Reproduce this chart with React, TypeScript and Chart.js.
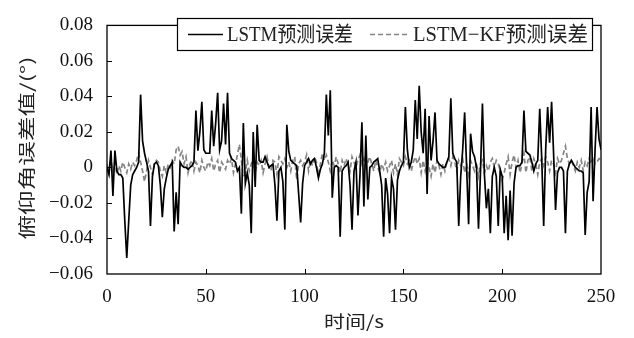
import React, { useEffect, useRef } from "react";
import { Chart, registerables } from "chart.js";

Chart.register(...registerables);

// LSTM prediction error, one value per second (t = 0 .. 250)
const lstmError: number[] = [
  0.000, -0.004, 0.0095, -0.016, 0.0095, -0.002, -0.004, -0.004, -0.006, -0.030,
  -0.051, -0.030, -0.010, -0.004, -0.002, 0.000, 0.003, 0.041, 0.015, 0.008,
  0.003, -0.002, -0.033, -0.005, 0.002, 0.003, 0.001, -0.010, -0.028, -0.012,
  -0.006, -0.001, 0.001, 0.003, -0.036, -0.014, -0.032, 0.003, 0.001, 0.000,
  0.000, -0.001, 0.000, 0.001, 0.003, 0.032, 0.0095, 0.020, 0.037, 0.010,
  0.008, 0.008, 0.008, 0.032, 0.012, 0.025, 0.042, 0.010, 0.015, 0.036,
  0.013, 0.042, 0.008, 0.005, 0.004, 0.003, -0.002, 0.000, -0.026, 0.025,
  -0.009, -0.003, -0.010, -0.037, 0.020, -0.011, 0.024, 0.004, 0.003, 0.003,
  0.006, 0.003, 0.000, 0.001, 0.002, -0.010, -0.030, -0.002, 0.000, -0.008,
  -0.035, 0.024, 0.009, 0.004, 0.003, 0.002, 0.001, -0.015, -0.031, -0.009,
  0.001, 0.003, 0.005, 0.002, 0.004, 0.005, 0.000, -0.006, -0.001, 0.002,
  0.008, 0.041, 0.018, 0.0435, -0.017, 0.000, 0.001, 0.000, -0.039, -0.002,
  0.000, 0.001, 0.003, -0.010, -0.035, -0.002, 0.003, -0.027, -0.005, 0.0255,
  -0.022, 0.018, -0.018, 0.000, 0.001, 0.003, 0.004, 0.005, -0.002, -0.010,
  -0.039, -0.006, -0.015, -0.037, -0.006, -0.012, -0.035, -0.007, -0.002, 0.001,
  0.003, 0.034, 0.010, 0.000, 0.003, 0.010, 0.038, 0.016, 0.046, 0.020,
  0.008, 0.033, -0.015, 0.029, 0.004, 0.015, 0.031, 0.004, 0.002, 0.001,
  0.000, 0.000, 0.003, 0.006, 0.039, 0.008, 0.005, 0.003, -0.033, -0.005,
  0.010, 0.031, 0.000, -0.032, 0.019, 0.009, 0.006, 0.000, -0.0345, -0.003,
  0.036, -0.004, -0.023, -0.012, -0.037, -0.005, 0.000, -0.005, -0.033, -0.001,
  -0.005, -0.037, -0.016, -0.041, -0.013, -0.0385, -0.009, 0.000, 0.001, 0.001,
  0.003, 0.032, 0.009, 0.008, 0.007, 0.003, -0.002, 0.002, 0.004, 0.033,
  0.005, -0.033, 0.010, 0.034, 0.014, 0.037, 0.008, -0.024, -0.003, 0.000,
  0.000, -0.002, -0.037, -0.002, 0.002, 0.004, 0.002, 0.000, -0.001, -0.002,
  -0.002, -0.003, -0.038, -0.014, -0.008, 0.034, -0.019, 0.010, 0.034, 0.016,
  0.010,
];

// LSTM-KF prediction error, one value per second (t = 0 .. 250)
const lstmKfError: number[] = [
  0.002, -0.003, 0.004, -0.002, 0.003, -0.004, 0.001, -0.002, 0.003, 0.000,
  -0.003, 0.002, -0.001, 0.003, 0.001, 0.004, 0.008, 0.003, -0.002, -0.008,
  -0.002, 0.004, 0.000, -0.004, 0.002, 0.004, 0.003, -0.002, -0.005, 0.001,
  -0.003, 0.002, 0.000, 0.004, 0.002, 0.010, 0.012, 0.007, 0.009, 0.002,
  0.006, -0.003, 0.002, 0.004, -0.002, 0.003, 0.001, -0.003, 0.004, 0.000,
  -0.002, 0.003, 0.001, 0.005, -0.002, 0.002, 0.004, -0.003, 0.003, 0.001,
  -0.001, 0.004, 0.002, 0.005, -0.003, 0.002, 0.007, 0.013, 0.004, -0.005,
  -0.003, 0.004, -0.002, 0.002, 0.005, -0.003, 0.003, 0.001, 0.004, -0.003,
  0.002, 0.006, 0.000, -0.002, 0.004, 0.003, -0.004, 0.006, 0.004, 0.002,
  0.005, 0.000, 0.003, -0.002, 0.004, 0.006, -0.007, 0.002, 0.004, 0.001,
  0.003, 0.007, -0.002, 0.004, 0.001, 0.006, 0.003, -0.004, 0.002, 0.008,
  0.004, 0.007, 0.003, -0.002, 0.004, 0.001, 0.006, 0.002, -0.003, 0.004,
  0.001, 0.005, 0.002, -0.002, 0.006, 0.003, 0.000, 0.004, 0.007, 0.002,
  0.005, 0.000, 0.003, 0.006, 0.002, -0.002, 0.004, 0.000, -0.003, 0.002,
  -0.001, 0.003, -0.002, 0.001, 0.004, -0.003, 0.002, -0.004, 0.005, 0.003,
  0.001, 0.006, 0.002, 0.004, -0.002, 0.003, 0.006, 0.002, 0.005, -0.003,
  0.004, -0.002, 0.003, 0.000, -0.005, 0.002, -0.003, 0.004, 0.001, -0.004,
  0.002, -0.002, 0.003, 0.005, 0.001, 0.006, 0.003, -0.002, 0.004, 0.001,
  0.005, -0.003, 0.002, -0.004, 0.004, 0.001, -0.002, 0.003, -0.005, 0.002,
  0.004, -0.003, 0.001, -0.002, 0.003, 0.005, 0.000, 0.004, 0.002, -0.002,
  -0.007, -0.003, 0.002, 0.006, -0.004, 0.003, 0.007, 0.000, 0.004, -0.003,
  0.002, 0.008, -0.003, 0.004, 0.006, -0.002, 0.005, 0.002, -0.004, 0.003,
  0.005, 0.001, 0.006, 0.003, -0.002, 0.004, 0.002, -0.003, 0.005, 0.002,
  0.004, 0.008, 0.012, 0.005, 0.002, 0.004, 0.001, -0.002, 0.003, 0.000,
  0.004, -0.002, 0.003, 0.001, 0.005, 0.002, 0.006, 0.002, 0.003, 0.005,
  0.004,
];

const seriesLabels = ["LSTM预测误差", "LSTM−KF预测误差"];
const xTitle = "时间/s";
const yTitle = "俯仰角误差值/(°)";

const X_MIN = 0, X_MAX = 250, X_STEP = 50;
const Y_MIN = -0.06, Y_MAX = 0.08, Y_STEP = 0.02;

const LATIN = '"Liberation Serif", "Noto Sans CJK SC", serif';
const CJK = '"Noto Sans CJK SC", "Liberation Serif", sans-serif';

function toPoints(vals: number[]) {
  return vals.map((v, i) => ({ x: i, y: v }));
}

function fmtY(v: number) {
  if (Math.abs(v) < 1e-9) return "0";
  return (v < 0 ? "−" : "") + Math.abs(v).toFixed(2);
}

function drawFitted(ctx: CanvasRenderingContext2D, text: string, x: number, y: number, width: number) {
  const w = ctx.measureText(text).width;
  ctx.save();
  ctx.translate(x, y);
  ctx.scale(width / w, 1);
  ctx.fillText(text, 0, 0);
  ctx.restore();
}

const decorPlugin = {
  id: "decor",
  afterDatasetsDraw(chart: any) {
    const ctx: CanvasRenderingContext2D = chart.ctx;
    const { left, right, top, bottom } = chart.chartArea;
    const xs = chart.scales.x;
    const ys = chart.scales.y;
    ctx.save();
    // frame
    ctx.strokeStyle = "#000";
    ctx.lineWidth = 1.3;
    ctx.strokeRect(left, top, right - left, bottom - top);
    // inward ticks
    ctx.lineWidth = 1;
    ctx.beginPath();
    for (let v = Y_MIN + Y_STEP; v < Y_MAX - 1e-9; v += Y_STEP) {
      const py = Math.round(ys.getPixelForValue(v)) + 0.5;
      ctx.moveTo(left, py);
      ctx.lineTo(left + 5, py);
    }
    for (let v = X_MIN + X_STEP; v < X_MAX - 1e-9; v += X_STEP) {
      const px = Math.round(xs.getPixelForValue(v)) + 0.5;
      ctx.moveTo(px, bottom);
      ctx.lineTo(px, bottom - 5);
    }
    ctx.stroke();

    // legend
    const lx = 177, ly = 18, lw = 415, lh = 32;
    ctx.fillStyle = "#fff";
    ctx.fillRect(lx, ly, lw, lh);
    ctx.strokeStyle = "#000";
    ctx.lineWidth = 1.2;
    ctx.strokeRect(lx + 0.5, ly + 0.5, lw, lh);
    const ds = chart.data.datasets;
    const cy = ly + lh / 2 + 0.5;
    ctx.lineWidth = 1.6;
    ctx.strokeStyle = ds[0].borderColor;
    ctx.setLineDash([]);
    ctx.beginPath();
    ctx.moveTo(188, cy);
    ctx.lineTo(223, cy);
    ctx.stroke();
    ctx.strokeStyle = ds[1].borderColor;
    ctx.setLineDash(ds[1].borderDash);
    ctx.beginPath();
    ctx.moveTo(370, cy);
    ctx.lineTo(407, cy);
    ctx.stroke();
    ctx.setLineDash([]);
    ctx.fillStyle = "#222";
    ctx.font = "21px " + LATIN;
    ctx.textBaseline = "middle";
    ctx.textAlign = "left";
    drawFitted(ctx, ds[0].label, 227, cy + 1, 126);
    drawFitted(ctx, ds[1].label, 413, cy + 1, 175);

    // axis titles
    ctx.font = "17px " + CJK;
    ctx.textAlign = "left";
    ctx.textBaseline = "middle";
    const xtw = 60;
    drawFitted(ctx, xTitle, (left + right) / 2 - xtw / 2, 322, xtw);
    ctx.save();
    ctx.translate(27, 148);
    ctx.rotate(-Math.PI / 2);
    const ytw = 183;
    drawFitted(ctx, yTitle, -ytw / 2, 0, ytw);
    ctx.restore();
    ctx.restore();
  },
};

export default function App() {
  const ref = useRef<HTMLCanvasElement | null>(null);
  useEffect(() => {
    if (!ref.current) return;
    const tickFont = { family: LATIN, size: 19 };
    const chart = new Chart(ref.current, {
      type: "line",
      data: {
        datasets: [
          {
            label: seriesLabels[0],
            data: toPoints(lstmError),
            borderColor: "#000000",
            borderWidth: 1.7,
            pointRadius: 0,
            tension: 0,
          },
          {
            label: seriesLabels[1],
            data: toPoints(lstmKfError),
            borderColor: "#858585",
            borderWidth: 1.7,
            borderDash: [5, 3],
            pointRadius: 0,
            tension: 0,
          },
        ],
      },
      options: {
        animation: false,
        responsive: false,
        layout: { padding: { top: 13, right: 33, left: 0, bottom: 0 } },
        plugins: { legend: { display: false }, tooltip: { enabled: false } },
        scales: {
          x: {
            type: "linear",
            min: X_MIN,
            max: X_MAX,
            grid: { display: false, drawTicks: false },
            border: { display: false },
            ticks: { stepSize: X_STEP, color: "#111", font: tickFont, padding: 12, maxRotation: 0 },
            afterFit: (s: any) => { s.height = 64; },
          },
          y: {
            type: "linear",
            min: Y_MIN,
            max: Y_MAX,
            grid: { display: false, drawTicks: false },
            border: { display: false },
            ticks: { stepSize: Y_STEP, color: "#111", font: tickFont, padding: 14, callback: (v: any) => fmtY(Number(v)) },
            afterFit: (s: any) => { s.width = 107; },
          },
        },
      },
      plugins: [decorPlugin],
    } as any);
    return () => chart.destroy();
  }, []);
  return (
    <div style={{ position: "absolute", left: 0, top: 0, width: 634, height: 338, background: "#fff" }}>
      <canvas ref={ref} width={634} height={338} style={{ display: "block" }} />
    </div>
  );
}
